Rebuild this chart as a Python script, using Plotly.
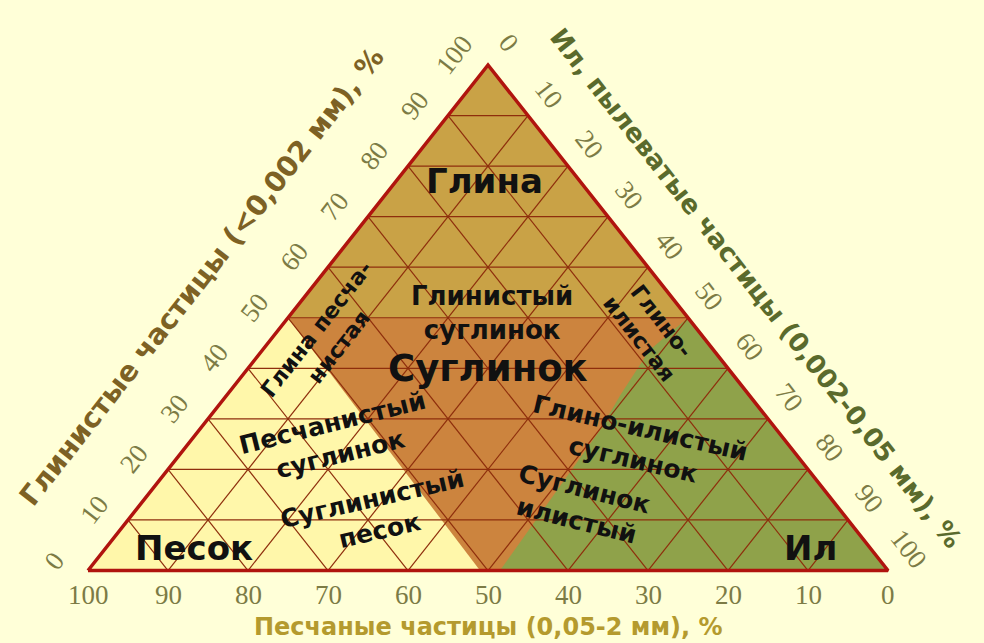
import plotly.graph_objects as go

# ---------------- data (ternary percentages: clay, silt; sand = 100 - clay - silt) -------------
tick_values = [0, 10, 20, 30, 40, 50, 60, 70, 80, 90, 100]
grid_values = [10, 20, 30, 40, 50, 60, 70, 80, 90]

# region polygons (clay %, silt %)
glina_clay = [100, 0, 0]          # whole triangle = clay background
glina_silt = [0, 100, 0]
suglinok_clay = [50, 50, 0, 0]
suglinok_silt = [0, 50, 100, 0]
pesok_clay = [0, 50, 0]
pesok_silt = [0, 0, 49]
il_clay = [0, 0, 50, 43.6, 34.7, 27.8, 0]
il_silt = [51.5, 100, 50, 48.4, 49.2, 50.1, 51.5]

# region labels
label_texts = ["Глина", "Глинистый<br>суглинок", "Суглинок", "Глина песча-<br>нистая",
               "Глино-<br>илистая", "Песчанистый<br>суглинок", "Глино-илистый<br>суглинок",
               "Суглинистый<br>песок", "Суглинок<br>илистый", "Песок", "Ил"]
label_clay = [77, 51, 40, 46, 47.5, 26, 25, 11, 13, 4.5, 4.5]
label_silt = [11, 25, 30, 7, 46.5, 18, 56, 30.5, 55, 11, 88]

title_sand = "Песчаные частицы (0,05-2 мм), %"
title_clay = "Глинистые частицы (<0,002 мм), %"
title_silt = "Ил, пылеватые частицы (0,002-0,05 мм), %"

# ---------------- styles -------------
label_angles = [0, 0, 0, -52, 52, -14, 13, -13, 14, 0, 0]
label_sizes = [34, 26, 37, 22, 22, 25, 25, 25, 25, 34, 34]

BG = "#FFFFD8"
C_GLINA = "#C9A246"
C_SUGL = "#CC843E"
C_PESOK = "#FFF7AA"
C_IL = "#8FA24A"
GRID = "#8E2E0C"
BORDER = "#B0140E"
TICK_COLOR = "#7C7B45"


def to_xy(clay, silt):
    xs, ys = [], []
    for c, s in zip(clay, silt):
        if c is None:
            xs.append(None); ys.append(None)
        else:
            xs.append(s + c / 2.0); ys.append(c)
    return xs, ys


fig = go.Figure()

for cl, si, col in [(glina_clay, glina_silt, C_GLINA), (suglinok_clay, suglinok_silt, C_SUGL),
                    (pesok_clay, pesok_silt, C_PESOK), (il_clay, il_silt, C_IL)]:
    x, y = to_xy(cl + [cl[0]], si + [si[0]])
    fig.add_trace(go.Scatter(x=x, y=y, mode="lines", fill="toself", fillcolor=col,
                             line=dict(width=0, color=col), hoverinfo="skip", showlegend=False))

# grid lines
g_clay, g_silt = [], []
for t in grid_values:
    g_clay += [t, t, None]; g_silt += [0, 100 - t, None]          # constant clay
    g_clay += [100 - t, 0, None]; g_silt += [0, 100 - t, None]    # constant sand
    g_clay += [0, 100 - t, None]; g_silt += [t, t, None]          # constant silt
gx, gy = to_xy(g_clay, g_silt)
fig.add_trace(go.Scatter(x=gx, y=gy, mode="lines", line=dict(width=1.2, color=GRID),
                         hoverinfo="skip", showlegend=False))

# border
bx, by = to_xy([0, 0, 100, 0], [0, 100, 0, 0])
fig.add_trace(go.Scatter(x=bx, y=by, mode="lines", line=dict(width=3.5, color=BORDER),
                         hoverinfo="skip", showlegend=False))

ann = []
serif = "Liberation Serif"
# bottom ticks (sand)
for t in tick_values:
    x, y = to_xy([0], [100 - t])
    ann.append(dict(x=x[0], y=y[0], text=str(t), showarrow=False, yshift=-24,
                    font=dict(family=serif, size=27, color=TICK_COLOR)))
# left ticks (clay)
for t in tick_values:
    x, y = to_xy([t], [0])
    ann.append(dict(x=x[0], y=y[0], text=str(t), showarrow=False, xshift=-34, yshift=10,
                    textangle=-52, font=dict(family=serif, size=27, color=TICK_COLOR)))
# right ticks (silt)
for t in tick_values:
    x, y = to_xy([100 - t], [t])
    ann.append(dict(x=x[0], y=y[0], text=str(t), showarrow=False, xshift=21, yshift=22,
                    textangle=52, font=dict(family=serif, size=27, color=TICK_COLOR)))

# axis titles
x, y = to_xy([0], [50])
ann.append(dict(x=x[0], y=y[0], text=title_sand, showarrow=False, yshift=-56,
                font=dict(family="DejaVu Sans", size=24, color="#B49A2E", weight="bold")))
x, y = to_xy([50], [0])
ann.append(dict(x=x[0], y=y[0], text=title_clay, showarrow=False, xshift=-86, yshift=41,
                textangle=-52, font=dict(family="DejaVu Sans", size=28, color="#7D6124", weight="bold")))
x, y = to_xy([50], [50])
ann.append(dict(x=x[0], y=y[0], text=title_silt, showarrow=False, xshift=68, yshift=30,
                textangle=52, font=dict(family="DejaVu Sans", size=26, color="#5A6A2C", weight="bold")))

# region labels
lx, ly = to_xy(label_clay, label_silt)
for i, txt in enumerate(label_texts):
    ann.append(dict(x=lx[i], y=ly[i], text="<b>" + txt + "</b>", showarrow=False,
                    textangle=label_angles[i],
                    font=dict(family="DejaVu Sans", size=label_sizes[i], color="#111111")))

fig.update_layout(
    width=984, height=643, margin=dict(l=0, r=0, t=0, b=0),
    paper_bgcolor=BG, plot_bgcolor=BG,
    xaxis=dict(range=[-11, 112], visible=False, fixedrange=True),
    yaxis=dict(range=[-14.34, 112.86], visible=False, fixedrange=True),
    annotations=ann, showlegend=False,
)

fig.write_html("out.html", config={"displayModeBar": False},
               post_script="document.body.style.margin='0';document.body.style.overflow='hidden';"
                           "document.body.style.background='" + BG + "';")
